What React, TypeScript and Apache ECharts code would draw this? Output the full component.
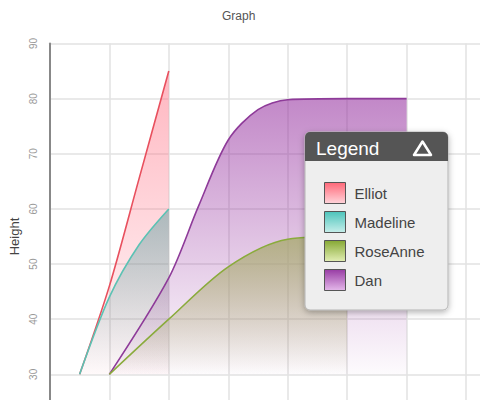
import { useEffect, useRef } from 'react';
import * as echarts from 'echarts';

// series values, [x, height]
const seriesNames = ['Elliot', 'Madeline', 'RoseAnne', 'Dan'];
const elliot = [[0.5, 30], [1, 46], [1.5, 65.5], [2, 85]];
const madeline = [[0.5, 30], [1, 44], [1.5, 53.5], [2, 60]];
const roseAnne = [[1, 30], [2, 40], [3, 49.5], [4, 54.5], [5, 55]];
const dan = [[1, 30], [2, 47.5], [2.5, 60.5], [3, 72.5], [3.5, 78], [4, 79.8], [5, 80], [6, 80]];
const yTicks = { min: 20, max: 90, step: 10 };

const FONT = '"Liberation Sans", Arial, sans-serif';

const grad = (top: string, bottom: string) =>
  new echarts.graphic.LinearGradient(0, 0, 0, 1, [
    { offset: 0, color: top },
    { offset: 1, color: bottom },
  ]);

export default function App() {
  const chartRef = useRef<HTMLDivElement>(null);

  useEffect(() => {
    if (!chartRef.current) return;
    const chart = echarts.init(chartRef.current, null, { renderer: 'svg' });

    const areaSeries = (
      name: string,
      data: number[][],
      line: string,
      top: string,
      bottom: string
    ) => ({
      name,
      type: 'line',
      data,
      smooth: 0.3,
      showSymbol: false,
      lineStyle: { color: line, width: 1.6 },
      itemStyle: { color: line },
      areaStyle: { color: grad(top, bottom), origin: 30, opacity: 1 },
      z: 2,
    });

    const swatch = (name: string, top: string, bottom: string) => ({
      name,
      itemStyle: { color: grad(top, bottom), borderColor: '#555', borderWidth: 1 },
    });

    const option = {
      animation: false,
      title: {
        text: 'Graph',
        left: 222,
        top: 10,
        padding: 0,
        textStyle: { fontSize: 12, fontWeight: 'normal', color: '#555', fontFamily: FONT },
      },
      grid: { left: 45.5, top: 43.5, width: 480, height: 386 },
      xAxis: {
        type: 'value',
        min: 0,
        max: 8,
        interval: 1,
        axisLine: { show: false },
        axisTick: { show: false },
        axisLabel: { show: false },
        splitLine: { lineStyle: { color: '#e2e2e2', width: 1.5 } },
      },
      yAxis: {
        type: 'value',
        min: yTicks.min,
        max: yTicks.max,
        interval: yTicks.step,
        name: 'Height',
        nameLocation: 'middle',
        nameGap: 27,
        nameRotate: 90,
        nameTextStyle: { fontSize: 13, color: '#444', fontFamily: FONT },
        axisLine: { show: true, lineStyle: { color: '#888', width: 2 } },
        axisTick: { show: false },
        axisLabel: {
          rotate: 90,
          fontSize: 10,
          color: '#999',
          margin: 11,
          showMinLabel: false,
          fontFamily: FONT,
        },
        splitLine: { lineStyle: { color: '#e2e2e2', width: 1.5 } },
      },
      legend: {
        orient: 'vertical',
        left: 324,
        top: 182,
        padding: 0,
        icon: 'rect',
        itemWidth: 21,
        itemHeight: 21,
        itemGap: 7,
        z: 20,
        textStyle: { fontSize: 15, color: '#444', fontFamily: FONT, padding: [0, 0, 0, 4] },
        data: [
          swatch(seriesNames[0], '#ff6878', '#ffd4da'),
          swatch(seriesNames[1], '#4cc4bb', '#c6eeea'),
          swatch(seriesNames[2], '#86a834', '#e2eeb4'),
          swatch(seriesNames[3], '#983ca4', '#e4b8ea'),
        ],
      },
      graphic: [
        {
          type: 'rect',
          z: 10,
          shape: { x: 305, y: 132, width: 143, height: 178, r: 5 },
          style: {
            fill: '#eeeeee',
            stroke: '#b4b4b4',
            lineWidth: 1,
            shadowBlur: 6,
            shadowColor: 'rgba(0,0,0,0.3)',
            shadowOffsetY: 2,
          },
        },
        {
          type: 'rect',
          z: 11,
          shape: { x: 305, y: 132, width: 143, height: 29, r: [5, 5, 0, 0] },
          style: { fill: '#555555' },
        },
        {
          type: 'text',
          z: 12,
          x: 316,
          y: 148,
          style: {
            text: 'Legend',
            fill: '#ffffff',
            font: `19px ${FONT}`,
            verticalAlign: 'middle',
          },
        },
        {
          type: 'polygon',
          z: 12,
          shape: { points: [[422.5, 141.5], [431, 155], [414, 155]] },
          style: { fill: 'none', stroke: '#ffffff', lineWidth: 2.5, lineJoin: 'round' },
        },
      ],
      series: [
        areaSeries(seriesNames[0], elliot, '#e8505e', 'rgba(255,110,130,0.5)', 'rgba(255,110,130,0.04)'),
        areaSeries(seriesNames[1], madeline, '#5cc2b4', 'rgba(70,150,150,0.45)', 'rgba(70,150,150,0)'),
        areaSeries(seriesNames[3], dan, '#8e3b99', 'rgba(150,50,160,0.58)', 'rgba(150,50,160,0.02)'),
        areaSeries(seriesNames[2], roseAnne, '#8aab3c', 'rgba(168,170,110,0.8)', 'rgba(168,170,110,0)'),
      ],
    };

    chart.setOption(option);

    return () => {
      chart.dispose();
    };
  }, []);

  return (
    <div style={{ position: 'fixed', left: 0, top: 0, width: 480, height: 400, overflow: 'hidden', background: '#fff' }}>
      <div ref={chartRef} style={{ width: 540, height: 460 }} />
    </div>
  );
}
